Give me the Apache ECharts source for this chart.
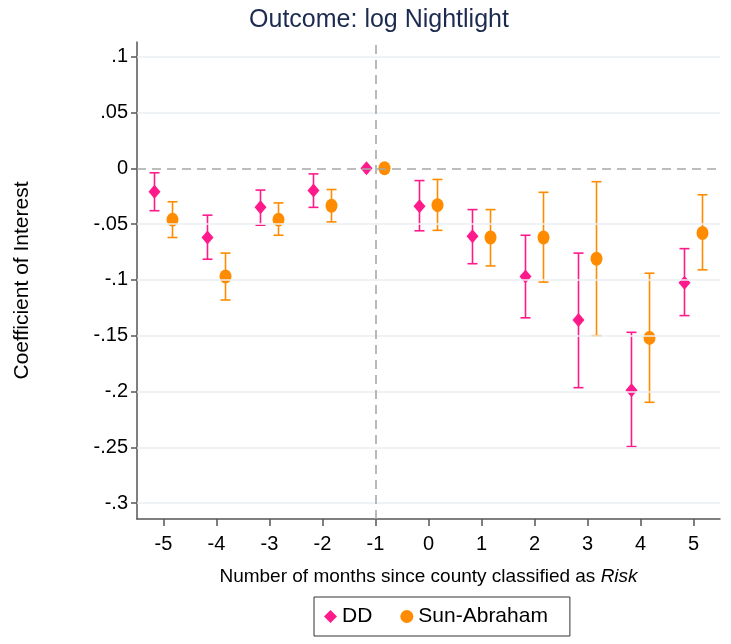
<!DOCTYPE html>
<html>
<head>
<meta charset="utf-8">
<script src="https://cdn.jsdelivr.net/npm/echarts@6/dist/echarts.min.js"></script>
<style>
  html, body { margin: 0; padding: 0; background: #fff; }
  #chart { width: 731px; height: 644px; }
</style>
</head>
<body>
<div id="chart"></div>
<script>
// event time (months since classified as Risk)
const months = [-5, -4, -3, -2, -1, 0, 1, 2, 3, 4, 5]

// DD estimates and 95% CI
const ddCoef = [-0.021, -0.062, -0.035, -0.020, 0, -0.034, -0.061, -0.097, -0.136, -0.199, -0.1025]
const ddLow = [-0.038, -0.0815, -0.051, -0.035, 0, -0.056, -0.0855, -0.134, -0.1966, -0.2494, -0.132]
const ddHigh = [-0.004, -0.042, -0.0195, -0.005, 0, -0.011, -0.037, -0.060, -0.076, -0.147, -0.072]

// Sun-Abraham estimates and 95% CI
const saCoef = [-0.046, -0.097, -0.046, -0.0335, 0, -0.033, -0.062, -0.062, -0.081, -0.152, -0.058]
const saLow = [-0.062, -0.118, -0.060, -0.048, 0, -0.0556, -0.0875, -0.102, -0.150, -0.2097, -0.091]
const saHigh = [-0.030, -0.076, -0.031, -0.019, 0, -0.010, -0.037, -0.0215, -0.012, -0.094, -0.0237]

const yTicks = [0.1, 0.05, 0, -0.05, -0.1, -0.15, -0.2, -0.25, -0.3]
const yTickLabels = ['.1', '.05', '0', '-.05', '-.1', '-.15', '-.2', '-.25', '-.3']

const ddColor = '#ff1a8c'
const saColor = '#ff8c00'
const shift = 0.17
const font = '"Liberation Sans", Arial, sans-serif'

const chart = echarts.init(document.getElementById('chart'))

function ciData (low, high, dx) {
  return months.map((m, i) => [m + dx, low[i], high[i]])
}

function renderCI (color) {
  return function (params, api) {
    if (api.value(1) === api.value(2)) return
    const lo = api.coord([api.value(0), api.value(1)])
    const hi = api.coord([api.value(0), api.value(2)])
    const cap = 5
    const style = { stroke: color, lineWidth: 1.6 }
    return {
      type: 'group',
      children: [
        { type: 'line', shape: { x1: lo[0], y1: lo[1], x2: hi[0], y2: hi[1] }, style },
        { type: 'line', shape: { x1: lo[0] - cap, y1: lo[1], x2: lo[0] + cap, y2: lo[1] }, style },
        { type: 'line', shape: { x1: hi[0] - cap, y1: hi[1], x2: hi[0] + cap, y2: hi[1] }, style }
      ]
    }
  }
}

chart.setOption({
  animation: false,
  title: {
    text: 'Outcome: log Nightlight',
    left: 374,
    textAlign: 'center',
    top: 3,
    textStyle: { fontFamily: font, fontSize: 25, fontWeight: 'normal', color: '#1c2b4f' }
  },
  legend: {
    data: ['DD', 'Sun-Abraham'],
    left: 314,
    top: 597,
    width: 232,
    padding: [9, 22, 9, 10],
    itemGap: 28,
    itemWidth: 13,
    itemHeight: 13,
    borderColor: '#333',
    borderWidth: 1,
    textStyle: { fontFamily: font, fontSize: 21, color: '#000' }
  },
  grid: { left: 137, right: 11, top: 42, bottom: 125 },
  xAxis: {
    type: 'value',
    min: -5.5,
    max: 5.5,
    name: 'Number of months since county classified as {i|Risk}',
    nameLocation: 'middle',
    nameGap: 48,
    nameTextStyle: {
      fontFamily: font, fontSize: 19, color: '#000',
      rich: { i: { fontFamily: font, fontSize: 19, fontStyle: 'italic', color: '#000' } }
    },
    axisLine: { onZero: false, lineStyle: { color: '#555', width: 1.5 } },
    axisTick: { customValues: months, length: 7, lineStyle: { color: '#555', width: 1.5 } },
    axisLabel: { customValues: months, fontFamily: font, fontSize: 20, color: '#000', margin: 15 },
    splitLine: { show: false }
  },
  yAxis: {
    type: 'value',
    min: -0.3143,
    max: 0.1132,
    name: 'Coefficient of Interest',
    nameLocation: 'middle',
    nameGap: 104,
    nameTextStyle: { fontFamily: font, fontSize: 21, color: '#000' },
    axisLine: { show: true, onZero: false, lineStyle: { color: '#555', width: 1.5 } },
    axisTick: { show: true, customValues: yTicks, length: 6, lineStyle: { color: '#555', width: 1.5 } },
    axisLabel: {
      customValues: yTicks,
      fontFamily: font,
      fontSize: 20,
      color: '#000',
      margin: 9,
      formatter: v => yTickLabels[yTicks.findIndex(t => Math.abs(t - v) < 1e-9)]
    },
    splitLine: { show: false }
  },
  series: [
    {
      name: 'grid',
      type: 'line',
      data: [],
      silent: true,
      markLine: {
        silent: true,
        symbol: 'none',
        label: { show: false },
        lineStyle: { color: '#eaeff2', type: 'solid', width: 1.5 },
        data: yTicks.filter(t => t !== 0).map(t => ({ yAxis: t }))
      }
    },
    {
      name: 'ref',
      type: 'line',
      data: [],
      silent: true,
      markLine: {
        silent: true,
        symbol: 'none',
        label: { show: false },
        lineStyle: { color: '#a8a8a8', type: [9, 6], width: 1.6 },
        data: [{ yAxis: 0 }, { xAxis: -1 }]
      }
    },
    {
      name: 'DD CI',
      type: 'custom',
      data: ciData(ddLow, ddHigh, -shift),
      renderItem: renderCI(ddColor),
      encode: { x: 0, y: [1, 2] },
      z: 3
    },
    {
      name: 'Sun-Abraham CI',
      type: 'custom',
      data: ciData(saLow, saHigh, shift),
      renderItem: renderCI(saColor),
      encode: { x: 0, y: [1, 2] },
      z: 3
    },
    {
      name: 'DD',
      type: 'scatter',
      symbol: 'diamond',
      symbolSize: [12, 14],
      itemStyle: { color: ddColor, opacity: 1 },
      data: months.map((m, i) => [m - shift, ddCoef[i]]),
      z: 4
    },
    {
      name: 'Sun-Abraham',
      type: 'scatter',
      symbol: 'circle',
      symbolSize: [12, 14],
      itemStyle: { color: saColor, opacity: 1 },
      data: months.map((m, i) => [m + shift, saCoef[i]]),
      z: 4
    }
  ]
})
</script>
</body>
</html>
